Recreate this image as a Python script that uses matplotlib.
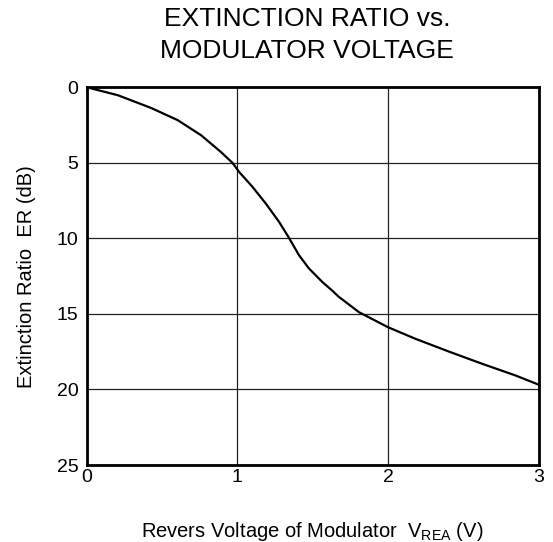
import matplotlib
matplotlib.use("Agg")
import matplotlib.pyplot as plt

plt.rcParams['font.family'] = ['Liberation Sans', 'DejaVu Sans']
plt.rcParams['mathtext.fontset'] = 'custom'
plt.rcParams['mathtext.rm'] = 'Liberation Sans'

# curve
voltage = [0.0, 0.207, 0.427, 0.604, 0.758, 0.89, 0.967, 1.011, 1.1, 1.188,
           1.276, 1.342, 1.408, 1.474, 1.562, 1.631, 1.672, 1.808, 2.0, 2.183,
           2.404, 2.625, 2.846, 3.0]
er_db = [0.0, 0.53, 1.37, 2.18, 3.17, 4.28, 5.0, 5.6, 6.59, 7.69,
         8.9, 9.96, 11.1, 11.98, 12.87, 13.47, 13.86, 14.89, 15.88, 16.65,
         17.49, 18.3, 19.07, 19.68]

x_ticks = [0, 1, 2, 3]
y_ticks = [0, 5, 10, 15, 20, 25]

fig = plt.figure(figsize=(5.53, 5.42), dpi=100)
ax = fig.add_axes([0.157, 0.142, 0.817, 0.697])

ax.plot(voltage, er_db, color='black', linewidth=1.6, solid_joinstyle='round')

ax.set_xlim(0, 3)
ax.set_ylim(25, 0)
ax.set_xticks(x_ticks)
ax.set_yticks(y_ticks)
ax.tick_params(length=0, labelsize=14)
ax.tick_params(axis='x', pad=3)
ax.tick_params(axis='y', pad=6)
ax.grid(True, color='#222222', linewidth=0.9)
for s in ax.spines.values():
    s.set_linewidth(2.0)

ax.set_xlabel(r'Revers Voltage of Modulator  V$_\mathregular{REA}$ (V)', fontsize=14.5, labelpad=24)
ax.set_ylabel('Extinction Ratio  ER (dB)', fontsize=14.5, labelpad=15)

fig.text(0.555, 0.952, 'EXTINCTION RATIO vs.', ha='center', va='baseline', fontsize=19)
fig.text(0.555, 0.893, 'MODULATOR VOLTAGE', ha='center', va='baseline', fontsize=19)

fig.savefig('out.png', dpi=100)
